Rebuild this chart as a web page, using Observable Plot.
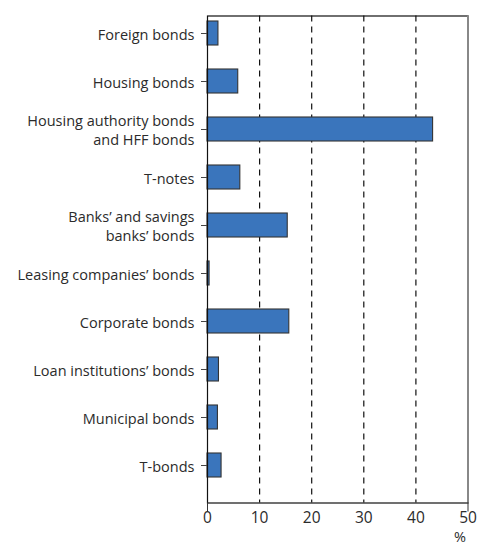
<!DOCTYPE html>
<html>
<head>
<meta charset="utf-8">
<script src="https://cdn.jsdelivr.net/npm/d3@7"></script>
<script src="https://cdn.jsdelivr.net/npm/@observablehq/plot@0.6"></script>
<style>
  html, body { margin: 0; padding: 0; background: #fff; }
  #chart { width: 477px; height: 547px; }
</style>
</head>
<body>
<div id="chart"></div>
<script>
const categories = [
  "Foreign bonds",
  "Housing bonds",
  "Housing authority bonds\nand HFF bonds",
  "T-notes",
  "Banks’ and savings\nbanks’ bonds",
  "Leasing companies’ bonds",
  "Corporate bonds",
  "Loan institutions’ bonds",
  "Municipal bonds",
  "T-bonds"
];
const values = [2.1, 5.9, 43.3, 6.3, 15.4, 0.4, 15.7, 2.2, 2.0, 2.7];
const xTicks = [0, 10, 20, 30, 40, 50];
const gridTicks = [10, 20, 30, 40];
const edgeTicks = [0, 50];
const unitLabel = ["%"];

const data = categories.map((c, i) => ({category: c, value: values[i]}));

const chart = Plot.plot({
  width: 477,
  height: 547,
  marginLeft: 207,
  marginRight: 9.5,
  marginTop: 15.5,
  marginBottom: 44.5,
  style: {fontFamily: "'Open Sans', sans-serif", fontSize: "14.5px", color: "#2b2b2b", background: "#fff"},
  x: {domain: [0, 50]},
  y: {domain: categories, paddingInner: 0.5, paddingOuter: 0.25, insetTop: -10, insetBottom: 10},
  marks: [
    Plot.ruleX(gridTicks, {stroke: "#111", strokeWidth: 1.2, strokeDasharray: "6,5"}),
    Plot.barX(data, {x: "value", y: "category", fill: "#3a75bc", stroke: "#333", strokeWidth: 1.1}),
    Plot.frame({stroke: "#111", strokeWidth: 1.2}),
    Plot.ruleX([50], {stroke: "#888", strokeWidth: 2}),
    Plot.axisY({tickSize: 6, tickPadding: 7, label: null, stroke: "#444", lineHeight: 1.3}),
    Plot.axisX({ticks: xTicks, tickSize: 0, tickPadding: 9, label: null, fontSize: 15.5}),
    Plot.axisX({ticks: edgeTicks, tickSize: 9, tickFormat: () => "", label: null, stroke: "#333"}),
    Plot.text(unitLabel, {frameAnchor: "bottom-right", dx: -2, dy: 34, lineAnchor: "middle", textAnchor: "end", fontSize: 14.5, fill: "#2b2b2b"})
  ]
});
document.getElementById("chart").appendChild(chart);
</script>
</body>
</html>
